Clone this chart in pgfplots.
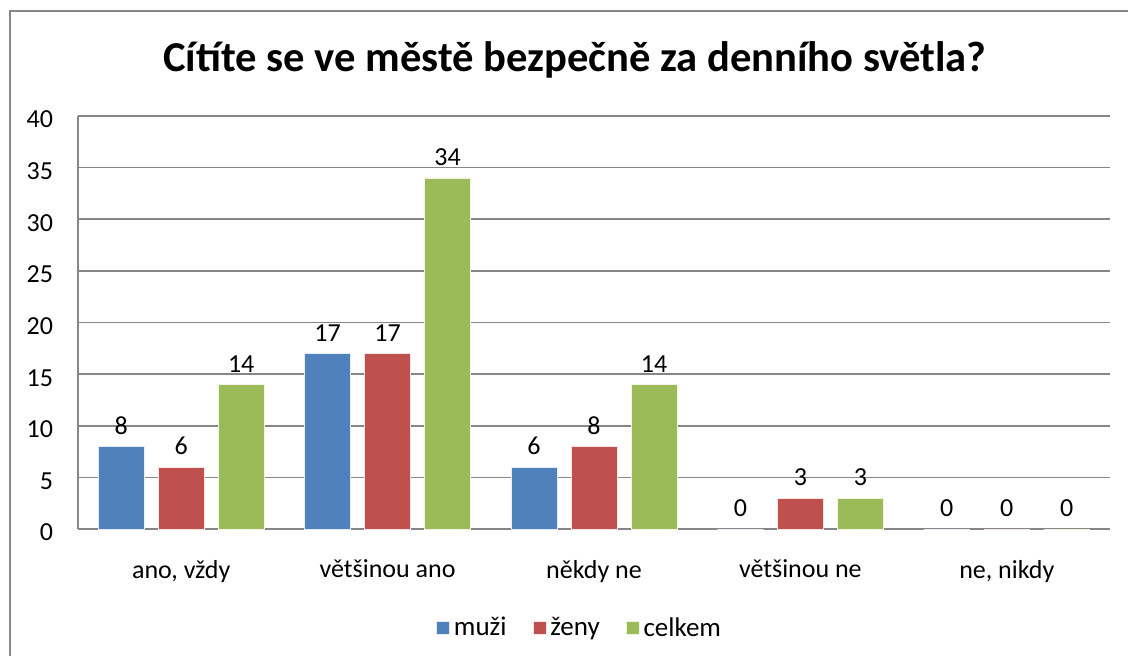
\documentclass[border=0pt]{standalone}
\usepackage{pgfplots}
\pgfplotsset{compat=1.18}
\usepackage{fontspec}
\setmainfont{Carlito}
\definecolor{cblue}{HTML}{4F81BD}
\definecolor{cred}{HTML}{C0504D}
\definecolor{cgreen}{HTML}{9BBB59}
\definecolor{cgrid}{HTML}{868686}
\begin{document}
\begin{tikzpicture}
\path[use as bounding box] (0pt,0pt) rectangle (564pt,-327.5pt);
\draw[cgrid, line width=0.8pt] (5pt,-5.5pt) rectangle (600pt,-360pt);
\node[font=\fontsize{21.3}{24}\selectfont\bfseries] at (287.5pt,-30pt) {Cítíte se ve městě bezpečně za denního světla?};
\begin{axis}[
  at={(39pt,-264.5pt)}, anchor=south west,
  scale only axis, width=516pt, height=206.5pt,
  xmin=-0.5, xmax=4.5, ymin=0, ymax=40,
  ybar=7pt, bar width=23pt,
  xtick={0,1,2,3,4},
  xticklabels={{ano, vždy},{většinou ano},{někdy ne},{většinou ne},{ne, nikdy}},
  ytick={0,5,...,40},
  axis x line*=bottom, axis y line*=left,
  axis line style={cgrid, line width=0.8pt, -},
  ymajorgrids, grid style={cgrid, line width=0.8pt},
  major tick length=0pt,
  tick label style={font=\fontsize{13}{15}\selectfont},
  /pgf/number format/assume math mode=true,
  xticklabel style={yshift=-12pt},
  yticklabel style={xshift=-9pt, yshift=-1.8pt},
  nodes near coords,
  every node near coord/.append style={font=\fontsize{13}{15}\selectfont, yshift=2.5pt},
  legend style={draw=none, at={(0.487,-0.24)}, anchor=center, legend columns=3,
    font=\fontsize{13.5}{15}\selectfont, /tikz/every even column/.append style={column sep=11pt}},
  legend image code/.code={\fill[#1] (0pt,-3.2pt) rectangle (6.5pt,3.3pt);},
]
\addplot[fill=cblue, draw=white!85!cblue, line width=0.4pt] coordinates {(0,8) (1,17) (2,6) (3,0) (4,0)};
\addplot[fill=cred, draw=white!85!cred, line width=0.4pt] coordinates {(0,6) (1,17) (2,8) (3,3) (4,0)};
\addplot[fill=cgreen, draw=white!85!cgreen, line width=0.4pt] coordinates {(0,14) (1,34) (2,14) (3,3) (4,0)};
\legend{muži, ženy, celkem}
\end{axis}
\end{tikzpicture}
\end{document}
